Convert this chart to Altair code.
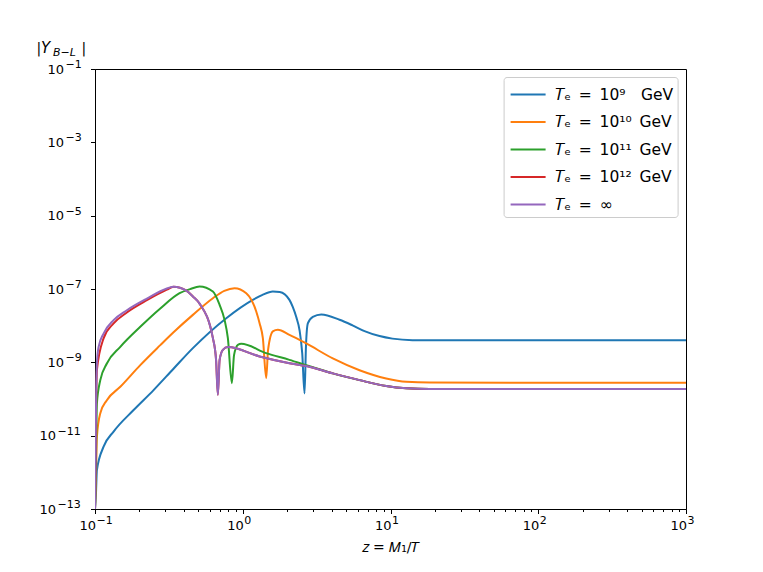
import altair as alt
import pandas as pd

series_labels = [
    "𝑇ₑ\u2002=\u200210⁹\u2002\u2002GeV",
    "𝑇ₑ\u2002=\u200210¹⁰\u2002GeV",
    "𝑇ₑ\u2002=\u200210¹¹\u2002GeV",
    "𝑇ₑ\u2002=\u200210¹²\u2002GeV",
    "𝑇ₑ\u2002=\u2002∞",
]
colors = ["#1f77b4", "#ff7f0e", "#2ca02c", "#d62728", "#9467bd"]

blue_x = [0.1, 0.1014, 0.1030, 0.1143, 0.1336, 0.1825, 0.2492, 0.340, 0.4597, 0.7737,
          1.170, 1.35, 1.598, 1.78, 2.07, 2.18, 2.30, 2.423, 2.527, 2.619, 2.68, 2.757, 2.98,
          3.40, 4.52, 5.53, 6.67, 8.43, 10.3, 14.1, 18.4, 1000]
blue_y = [1e-13, 2.4e-13, 1.15e-12, 5.0e-12, 1.29e-11, 5.0e-11, 1.75e-10, 6.7e-10, 2.44e-9, 1.6e-8,
          5.05e-8, 6.8e-8, 8.55e-8, 8.3e-8, 5.05e-8, 3.25e-8, 1.74e-8, 7.5e-9, 1.75e-9, 1.42e-10, 2.94e-9,
          1.15e-8, 1.74e-8, 2.02e-8, 1.45e-8, 1.02e-8, 7.1e-9, 5.2e-9, 4.43e-9, 4.02e-9, 4.0e-9, 4.0e-9]

orange_x = [0.1, 0.1014, 0.1030, 0.1086, 0.1203, 0.1483, 0.2025, 0.2766, 0.340, 0.4597,
            0.628, 0.75, 0.880, 1.056, 1.234, 1.30, 1.368, 1.442, 1.483, 1.598, 1.728, 2.07,
            2.69, 4.07, 6.17, 9.35, 12.8, 18.4, 1000]
orange_y = [1e-13, 6.2e-13, 9.3e-12, 4.1e-11, 9.3e-11, 2.15e-10, 8.4e-10, 2.94e-9, 6.6e-9, 1.97e-8,
            5.6e-8, 8.9e-8, 1.05e-7, 7.7e-8, 2.44e-8, 1.17e-8, 4.56e-9, 3.7e-10, 2.15e-9, 6.95e-9, 7.7e-9,
            5.6e-9, 3.27e-9, 1.28e-9, 6.1e-10, 3.64e-10, 2.94e-10, 2.8e-10, 2.76e-10]

green_x = [0.1, 0.1013, 0.1030, 0.1086, 0.1203, 0.1483, 0.2025, 0.2766, 0.3736, 0.44,
           0.510, 0.628, 0.697, 0.7532, 0.793, 0.844, 0.873, 0.9264, 0.9767, 1.44, 2.07,
           2.69, 4.07, 6.17, 9.35, 12.8, 18.4, 1000]
green_y = [1e-13, 1.15e-12, 7.6e-11, 3.27e-10, 9.3e-10, 2.64e-9, 9.3e-9, 2.94e-8, 7.7e-8, 9.9e-8,
           1.17e-7, 8.55e-8, 3.7e-8, 1.44e-8, 4.56e-9, 2.7e-10, 1.57e-9, 3.0e-9, 3.19e-9, 1.78e-9,
           1.17e-9, 8.4e-10, 5.0e-10, 3.27e-10, 2.25e-10, 1.95e-10, 1.86e-10, 1.86e-10]

red_x = [0.1, 0.1017, 0.1030, 0.1143, 0.1336, 0.1643, 0.2245, 0.3065, 0.340, 0.415, 0.46,
         0.51, 0.628, 0.66, 0.6785, 0.697, 0.7336, 0.793, 1.30, 2.07, 2.69,
         4.07, 6.17, 9.35, 12.8, 18.4, 1000]
red_y = [1e-13, 5e-11, 6.1e-10, 4.5e-9, 1.15e-8, 2.29e-8, 4.95e-8, 9.6e-8, 1.15e-7, 9.0e-8, 6.25e-8,
         4.0e-8, 4.56e-9, 1.15e-9, 1.3e-10, 1.15e-9, 2.19e-9, 2.6e-9, 1.45e-9, 9.5e-10, 7.9e-10,
         5.0e-10, 3.27e-10, 2.25e-10, 1.95e-10, 1.86e-10, 1.86e-10]

purple_x = [0.1, 0.1017, 0.1030, 0.1058, 0.1143, 0.1336, 0.1643, 0.2245, 0.3065, 0.340, 0.415, 0.46,
            0.51, 0.628, 0.66, 0.6785, 0.697, 0.7336, 0.793, 1.30, 2.07, 2.69,
            4.07, 6.17, 9.35, 12.8, 18.4, 1000]
purple_y = [1e-13, 9.3e-11, 9.3e-10, 2.64e-9, 6.1e-9, 1.41e-8, 2.64e-8, 5.5e-8, 1.03e-7, 1.16e-7, 9.0e-8,
            6.25e-8, 4.0e-8, 4.56e-9, 1.15e-9, 1.3e-10, 1.15e-9, 2.19e-9, 2.6e-9, 1.45e-9, 9.5e-10, 7.9e-10,
            5.0e-10, 3.27e-10, 2.25e-10, 1.95e-10, 1.86e-10, 1.86e-10]

x_major = [0.1, 1, 10, 100, 1000]
x_minor = [m * 10.0 ** k for k in range(-1, 3) for m in range(2, 10)]
y_major = [1e-13, 1e-11, 1e-9, 1e-7, 1e-5, 1e-3, 1e-1]

rows = []
for lab, xs, ys in zip(series_labels,
                       [blue_x, orange_x, green_x, red_x, purple_x],
                       [blue_y, orange_y, green_y, red_y, purple_y]):
    for i, (a, b) in enumerate(zip(xs, ys)):
        rows.append({"series": lab, "z": a, "Y": b, "i": i})
df = pd.DataFrame(rows)

xscale = alt.Scale(type="log", domain=[0.1, 1000], nice=False)
yscale = alt.Scale(type="log", domain=[1e-13, 1e-1], nice=False)

FONT = "DejaVu Sans"
H = 440
EXP = "replace('' + round(log(datum.v) / LN10), '-', '\u2212')"

lines = alt.Chart(df).mark_line(strokeWidth=2, clip=True, interpolate="monotone").encode(
    x=alt.X("z:Q", scale=xscale,
            axis=alt.Axis(values=x_major, labels=False, title="𝑧 = 𝑀₁/𝑇",
                          tickSize=4.5, titlePadding=26, orient="bottom")),
    y=alt.Y("Y:Q", scale=yscale,
            axis=alt.Axis(values=y_major, labels=False, title=None, tickSize=4.5)),
    color=alt.Color("series:N", sort=series_labels,
                    scale=alt.Scale(domain=series_labels, range=colors),
                    legend=alt.Legend(title=None, orient="none", legendX=408.6, legendY=8,
                                      symbolType="M-1.4,0H1.4", symbolSize=625,
                                      symbolStrokeWidth=2, labelFont=FONT, labelFontSize=15.5,
                                      labelColor="black",
                                      padding=4, rowPadding=5.5, symbolOffset=7, labelOffset=13,
                                      strokeColor="#cccccc", fillColor="white", cornerRadius=3)),
    order="i:Q",
)

minor = alt.Chart(df).mark_line(opacity=0).encode(
    x=alt.X("z:Q", scale=xscale,
            axis=alt.Axis(values=x_minor, labels=False, tickSize=2.5, domain=False,
                          title=None, orient="bottom")),
    y=alt.Y("Y:Q", scale=yscale, axis=None),
    detail="series:N",
)

# x tick labels: "10" plus raised exponent
xt = pd.DataFrame({"v": x_major})
x_base = alt.Chart(xt).mark_text(align="right", baseline="middle", font=FONT, fontSize=13,
                                 color="black", dx=1).encode(
    x=alt.X("v:Q", scale=xscale, axis=None), y=alt.value(H + 17), text=alt.value("10"))
x_exp = alt.Chart(xt).transform_calculate(e=EXP).mark_text(
    align="left", baseline="middle", font=FONT, fontSize=11, color="black", dx=1.5, dy=-5).encode(
    x=alt.X("v:Q", scale=xscale, axis=None), y=alt.value(H + 17), text="e:N")

# y tick labels
yt = pd.DataFrame({"v": y_major})
y_layers = []
for cond, base_x in [("datum.v > 1e-10", -31), ("datum.v < 1e-10", -39)]:
    y_layers.append(alt.Chart(yt).transform_filter(cond).mark_text(
        align="right", baseline="middle", font=FONT, fontSize=13, color="black", dy=0.5).encode(
        x=alt.value(base_x), y=alt.Y("v:Q", scale=yscale, axis=None), text=alt.value("10")))
    y_layers.append(alt.Chart(yt).transform_filter(cond).transform_calculate(e=EXP).mark_text(
        align="left", baseline="middle", font=FONT, fontSize=11, color="black", dy=-4).encode(
        x=alt.value(base_x + 1.5), y=alt.Y("v:Q", scale=yscale, axis=None), text="e:N"))

title_parts = [
    ("|", -58.5, -16, 14, "normal"),
    ("Y", -54, -16, 15, "italic"),
    ("B−L", -42, -13, 11, "italic"),
    ("|", -13.5, -16, 14, "normal"),
]
title_layers = []
for t, tx, ty, fs, st in title_parts:
    title_layers.append(
        alt.Chart(pd.DataFrame({"t": [t]})).mark_text(
            align="left", baseline="alphabetic", font=FONT, fontSize=fs, fontStyle=st, color="black"
        ).encode(x=alt.value(tx), y=alt.value(ty), text="t:N")
    )

chart = alt.layer(lines, minor, x_base, x_exp, *y_layers, *title_layers).resolve_axis(
    x="independent", y="independent"
).properties(
    width=591, height=H,
    padding={"left": 87, "top": 61, "right": 60, "bottom": 48},
    autosize=alt.AutoSizeParams(type="none"),
).configure_view(stroke="black", strokeWidth=1).configure_axis(
    grid=False, labelFont=FONT, labelFontSize=13, labelColor="black",
    tickColor="black", domainColor="black", tickWidth=1, domainWidth=1,
    titleFont=FONT, titleFontSize=14, titleFontWeight="normal", titleColor="black",
)

chart.save("out.html", embed_options={"renderer": "svg", "actions": False})
